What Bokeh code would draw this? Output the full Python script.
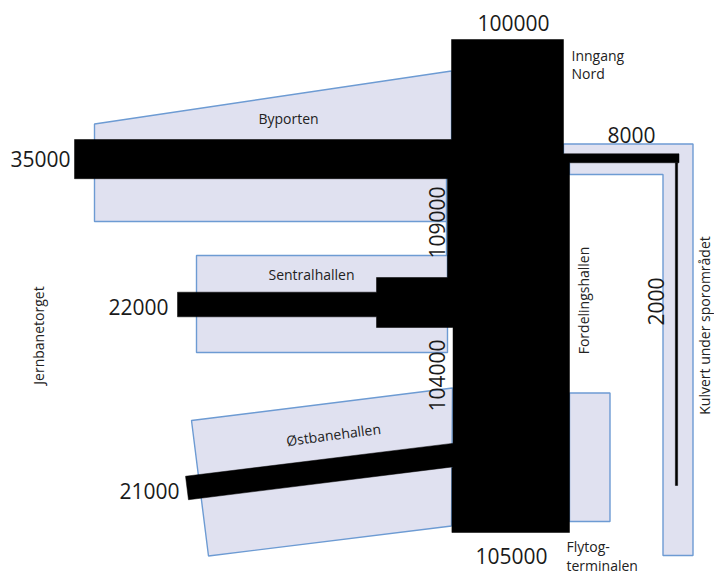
from math import pi
from bokeh.plotting import figure
from bokeh.models import ColumnDataSource
from bokeh.core.properties import value
from bokeh.embed import file_html
from bokeh.resources import INLINE

# --- data: passenger flows
flow_names = ["Byporten", "Sentralhallen", "Østbanehallen", "Kulvert", "Kulvert ned"]
flow_values = [35000, 22000, 21000, 8000, 2000]
spine_names = ["Inngang Nord", "Spine øvre", "Spine nedre", "Flytog"]
spine_values = [100000, 109000, 104000, 105000]
small_labels = ["Byporten", "Sentralhallen", "Østbanehallen", "Jernbanetorget",
                "Fordelingshallen", "Kulvert under sporområdet",
                "Inngang", "Nord", "Flytog-", "terminalen"]

# --- layout
W, H = 714, 574
OX, OY = 0, 0
PX = 0.00112  # pixels per passenger
FONT = "Open Sans"
FILL, EDGE = "#e0e1f0", "#6d9bd3"
R = 569
TOP, BOT = 39, 532
NECK = 277
JOIN_L, JOIN_B = 376, 327

p = figure(width=W, height=H, x_range=(OX, OX + W), y_range=(OY + H, OY),
           output_backend="svg", toolbar_location=None, min_border=0,
           outline_line_color=None)
p.axis.visible = False
p.grid.visible = False

# halls
halls_x = [[94, 451, 451, 446, 446, 94],
           [196, 447, 447, 196],
           [191, 452, 451, 208],
           [569, 609.5, 609.5, 569],
           [563, 692.5, 692.5, 662.5, 662.5, 569, 569, 563]]
halls_y = [[123.5, 70.5, 178, 178, 221, 221],
           [255, 255, 352, 352],
           [420, 387.5, 525.5, 555.5],
           [392.5, 392.5, 521, 521],
           [143.5, 143.5, 555, 555, 174, 174, 162, 162]]
p.patches(halls_x, halls_y, fill_color=FILL, line_color=EDGE, line_width=1.4)
p.line([446, 446], [221, 255], line_color=EDGE, line_width=1.4)

# flows
by, se, os_, ku, ku2 = [v * PX for v in flow_values]
top_w, up_w, lo_w, bot_w = [v * PX for v in spine_values]
by_top, se_mid, os_l, os_r = 139, 304, (186.5, 487.5), (454, 454.4)
ku_top, ku_end, ku_x, ku_bot = 153.3, 678.5, 676, 485
top_l = 451
kx = []
ky = []
# spine outline
kx.append([top_l, top_l + top_w, top_l + top_w, ku_end, ku_end, R, R, R - bot_w, R - bot_w,
           R - lo_w, R - lo_w, JOIN_L, JOIN_L, 177, 177, JOIN_L, JOIN_L, R - up_w, R - up_w,
           74, 74, top_l])
ky.append([TOP, TOP, ku_top, ku_top, ku_top + ku, ku_top + ku, BOT, BOT, 467,
           467, JOIN_B, JOIN_B, se_mid + se / 2, se_mid + se / 2, se_mid - se / 2, se_mid - se / 2,
           NECK, NECK, by_top + by, by_top + by, by_top, by_top])
# Østbanehallen flow (tilted band)
t = (os_r[1] - os_l[1]) / (os_r[0] - os_l[0])
dy = os_ / 2
dx = abs(t) * dy
kx.append([os_l[0] - dx, os_r[0], os_r[0], os_l[0] + dx])
ky.append([os_l[1] - dy, os_r[1] - dy, os_r[1] + dy, os_l[1] + dy])
# Kulvert vertical line
kx.append([ku_x - ku2 / 2, ku_x + ku2 / 2, ku_x + ku2 / 2, ku_x - ku2 / 2])
ky.append([ku_top + ku, ku_top + ku, ku_bot, ku_bot])
p.patches(kx, ky, fill_color="#000000", line_color="#000000", line_width=0.5)

# big number labels
num_text = [str(v) for v in flow_values] + [str(v) for v in spine_values]
num_x = [40, 138, 149, 631, 655, 513, 436, 436, 511]
num_y = [158, 306, 490, 134, 301, 22, 222, 375, 555]
num_a = [0, 0, 0, 0, pi / 2, 0, pi / 2, pi / 2, 0]
p.text(x="x", y="y", text="t", angle="a",
       source=ColumnDataSource(dict(x=num_x, y=num_y, t=num_text, a=num_a)),
       text_font=value(FONT), text_font_size="21px", text_color="#1a1a1a",
       text_align="center", text_baseline="middle")

# small labels
sm_x = [288, 311, 333, 38, 583, 704, 571, 571, 566, 566]
sm_y = [118, 274, 434, 335, 300, 325, 55, 73, 546, 565]
sm_a = [0, 0, 0.13, pi / 2, pi / 2, pi / 2, 0, 0, 0, 0]
sm_al = ["center"] * 6 + ["left"] * 4
p.text(x="x", y="y", text="t", angle="a", text_align="al",
       source=ColumnDataSource(dict(x=sm_x, y=sm_y, t=small_labels, a=sm_a, al=sm_al)),
       text_font=value(FONT), text_font_size="14px", text_color="#222222",
       text_baseline="middle")

open("out.html", "w").write(file_html(p, INLINE))
